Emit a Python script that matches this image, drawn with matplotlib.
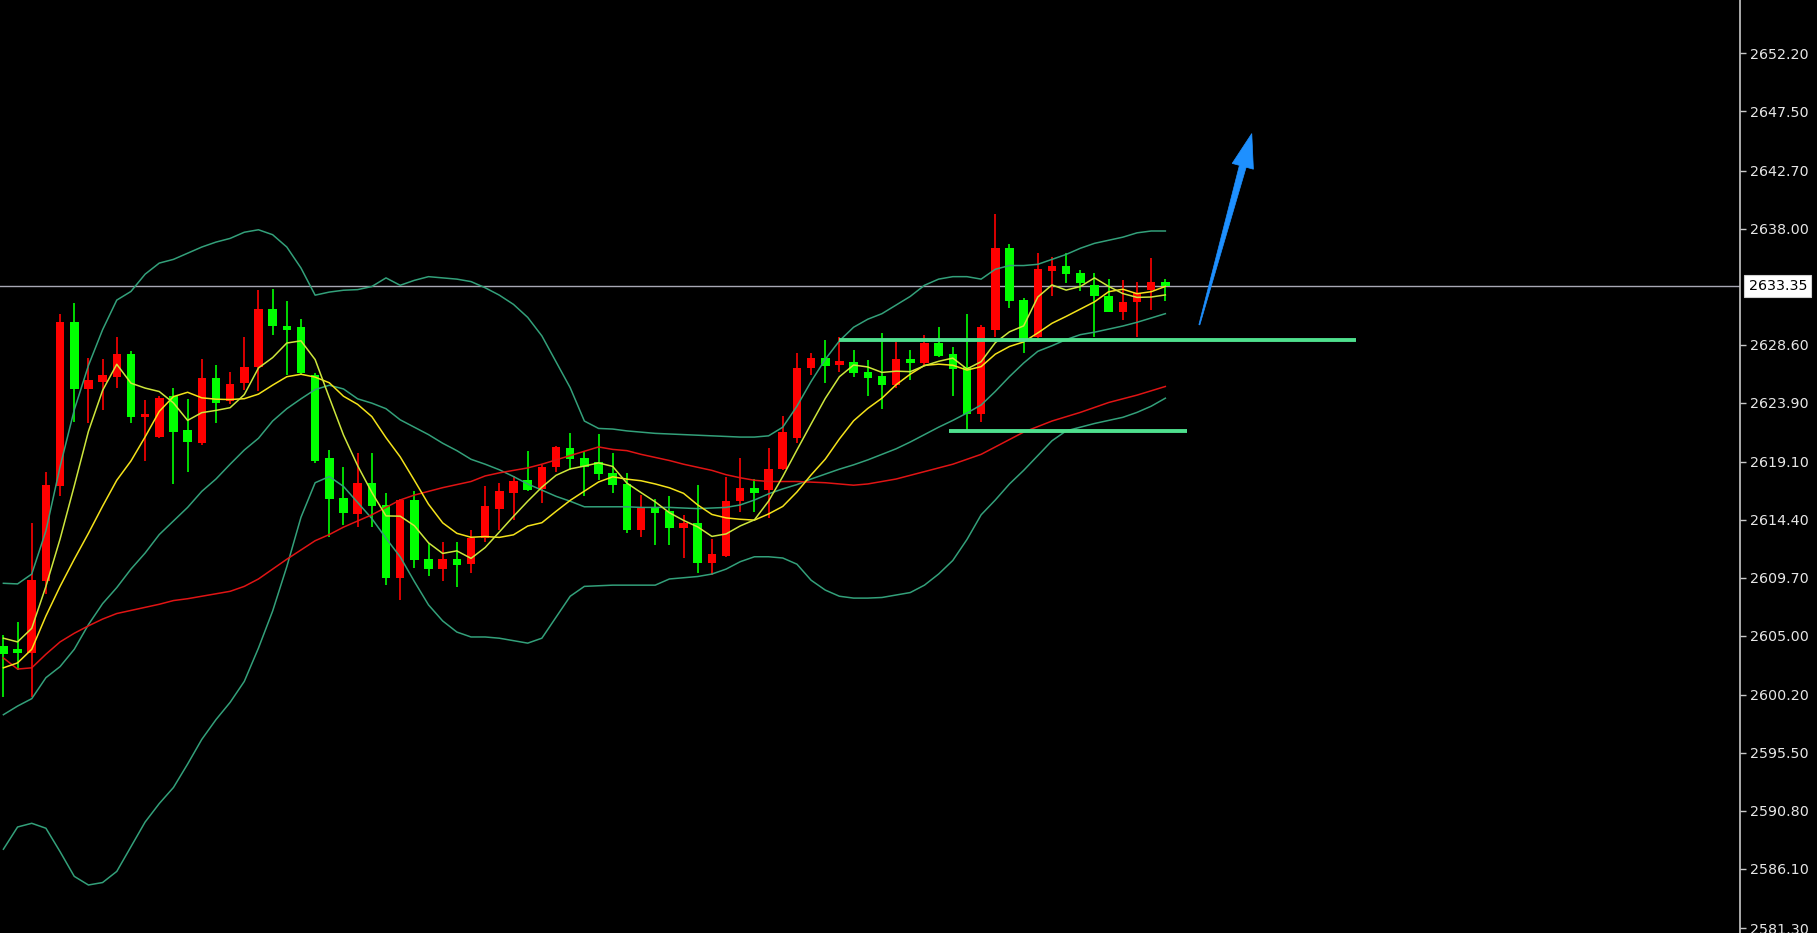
import numpy as np
import matplotlib
matplotlib.use("Agg")
import matplotlib.pyplot as plt
import matplotlib.transforms as mtransforms
from matplotlib.patches import Polygon

# ---------------- data ----------------
opens = [2604.2, 2603.9, 2603.6, 2609.4, 2617.1, 2630.4, 2625.0, 2625.6, 2626.0, 2627.8,
         2622.7, 2621.1, 2624.4, 2621.7, 2620.6, 2625.9, 2624.0, 2625.5, 2626.8, 2631.5,
         2630.1, 2630.0, 2626.1, 2619.4, 2616.2, 2614.9, 2617.35, 2615.6, 2609.65, 2616.0,
         2611.2, 2610.4, 2611.2, 2610.8, 2612.95, 2615.3, 2616.55, 2617.6, 2616.9, 2618.65,
         2620.2, 2619.4, 2619.05, 2618.2, 2617.3, 2613.55, 2615.45, 2615.1, 2613.7, 2614.15,
         2610.9, 2611.45, 2615.95, 2616.95, 2616.8, 2618.5, 2621.0, 2626.7, 2627.5, 2626.95,
         2627.2, 2626.4, 2626.05, 2625.3, 2627.4, 2627.1, 2628.7, 2627.8, 2626.8, 2623.0,
         2629.8, 2636.4, 2632.2, 2629.2, 2634.55, 2634.95, 2634.4, 2633.4, 2632.5, 2631.25,
         2632.05, 2633.0, 2633.7]
highs = [2605.1, 2606.1, 2614.1, 2618.3, 2631.1, 2632.0, 2627.5, 2627.4, 2629.2, 2628.1,
         2624.1, 2624.4, 2625.1, 2624.2, 2627.4, 2626.95, 2626.4, 2629.2, 2633.05, 2633.1,
         2632.1, 2630.65, 2626.3, 2620.05, 2618.65, 2619.8, 2619.8, 2616.55, 2616.1, 2616.7,
         2612.5, 2612.6, 2612.6, 2613.6, 2617.1, 2617.4, 2617.95, 2620.0, 2618.85, 2620.4,
         2621.4, 2619.9, 2621.35, 2619.8, 2618.2, 2616.4, 2616.1, 2616.3, 2614.8, 2617.2,
         2612.8, 2617.9, 2619.4, 2617.7, 2620.2, 2622.8, 2627.9, 2627.9, 2628.95, 2629.25,
         2628.15, 2627.35, 2629.55, 2628.8, 2628.15, 2629.4, 2630.0, 2628.4, 2631.1, 2630.2,
         2639.2, 2636.75, 2632.35, 2636.0, 2635.7, 2636.05, 2634.6, 2634.4, 2633.9, 2633.8,
         2633.7, 2635.6, 2633.95]
lows = [2600.0, 2602.2, 2600.0, 2608.4, 2616.3, 2622.35, 2622.2, 2623.3, 2625.05, 2622.2,
        2619.2, 2621.0, 2617.3, 2618.25, 2620.45, 2622.2, 2623.8, 2624.9, 2624.8, 2629.4,
        2626.1, 2626.1, 2619.0, 2613.0, 2614.0, 2613.8, 2613.8, 2609.1, 2607.9, 2610.45,
        2609.85, 2609.45, 2608.95, 2610.1, 2612.6, 2613.6, 2614.4, 2616.75, 2615.75, 2618.3,
        2618.45, 2616.3, 2617.6, 2616.55, 2613.3, 2613.0, 2612.35, 2612.35, 2611.3, 2610.1,
        2609.9, 2611.35, 2615.05, 2615.05, 2614.55, 2618.45, 2620.6, 2626.1, 2625.45, 2626.4,
        2626.0, 2624.4, 2623.4, 2625.05, 2625.7, 2626.9, 2627.6, 2624.4, 2621.65, 2622.35,
        2629.2, 2631.55, 2627.9, 2629.1, 2632.5, 2633.6, 2632.9, 2629.2, 2631.2, 2630.6,
        2629.2, 2631.4, 2632.1]
closes = [2603.5, 2603.6, 2609.5, 2617.2, 2630.4, 2625.0, 2625.7, 2626.1, 2627.8, 2622.75,
          2623.0, 2624.3, 2621.5, 2620.7, 2625.9, 2623.9, 2625.4, 2626.8, 2631.5, 2630.1,
          2629.8, 2626.3, 2619.2, 2616.1, 2614.95, 2617.35, 2615.5, 2609.65, 2616.0, 2611.1,
          2610.4, 2611.2, 2610.7, 2612.95, 2615.5, 2616.7, 2617.55, 2616.8, 2618.65, 2620.3,
          2619.3, 2618.7, 2618.1, 2617.2, 2613.55, 2615.45, 2614.95, 2613.7, 2614.1, 2610.9,
          2611.6, 2615.95, 2616.95, 2616.55, 2618.5, 2621.55, 2626.7, 2627.5, 2626.9, 2627.3,
          2626.3, 2625.9, 2625.3, 2627.4, 2627.1, 2628.7, 2627.7, 2626.6, 2623.0, 2630.05,
          2636.4, 2632.1, 2629.0, 2634.7, 2634.95, 2634.3, 2633.55, 2632.5, 2631.25, 2632.05,
          2632.75, 2633.7, 2633.35]

ma_fast = [2604.8, 2604.5, 2605.6, 2609.0, 2612.84, 2617.14, 2621.56, 2624.88, 2627.00, 2625.47,
           2625.07, 2624.79, 2623.87, 2622.45, 2623.08, 2623.26, 2623.48, 2624.54, 2626.70, 2627.54,
           2628.72, 2628.90, 2627.38, 2624.30, 2621.27, 2618.78, 2616.62, 2614.71, 2614.69, 2613.92,
           2612.53, 2611.67, 2611.88, 2611.27, 2612.15, 2613.41, 2614.68, 2615.90, 2617.04, 2618.00,
           2618.52, 2618.75, 2619.01, 2618.72, 2617.37, 2616.60, 2615.85, 2614.97, 2614.35, 2613.82,
           2613.05, 2613.25, 2613.90, 2614.39, 2615.91, 2617.90, 2620.05, 2622.16, 2624.23, 2625.99,
           2626.94, 2626.78, 2626.34, 2626.44, 2626.40, 2626.88, 2627.24, 2627.50, 2626.62, 2627.21,
           2628.75, 2629.63, 2630.11, 2632.45, 2633.43, 2633.01, 2633.30, 2634.00, 2633.31, 2632.73,
           2632.42, 2632.45, 2632.62]
ma_slow = [2602.4, 2602.8, 2603.9, 2606.6, 2609.0, 2611.2, 2613.3, 2615.5, 2617.6, 2619.16,
           2621.11, 2623.18, 2624.38, 2624.73, 2624.28, 2624.17, 2624.14, 2624.21, 2624.58, 2625.31,
           2625.99, 2626.19, 2625.96, 2625.50, 2624.41, 2623.75, 2622.76, 2621.05, 2619.50, 2617.60,
           2615.66, 2614.15, 2613.30, 2612.98, 2613.04, 2612.97, 2613.18, 2613.89, 2614.16, 2615.08,
           2615.97, 2616.72, 2617.46, 2617.88, 2617.69, 2617.56, 2617.30, 2616.99, 2616.54, 2615.60,
           2614.83, 2614.55, 2614.44, 2614.37, 2614.87, 2615.48, 2616.65, 2618.03, 2619.31, 2620.95,
           2622.42, 2623.42, 2624.25, 2625.34, 2626.20, 2626.91, 2627.01, 2626.92, 2626.53, 2626.81,
           2627.82, 2628.44, 2628.81, 2629.54, 2630.32, 2630.88, 2631.47, 2632.06, 2632.88, 2633.08,
           2632.72, 2632.88, 2633.31]
ma_long = [2603.2, 2602.3, 2602.4, 2603.5, 2604.5, 2605.2, 2605.8, 2606.35, 2606.8, 2607.05,
           2607.3, 2607.55, 2607.85, 2608.0, 2608.2, 2608.4, 2608.6, 2609.0, 2609.6, 2610.4,
           2611.2, 2611.95, 2612.7, 2613.2, 2613.8, 2614.3, 2614.8, 2615.4, 2616.0, 2616.4,
           2616.7, 2617.0, 2617.25, 2617.5, 2617.95, 2618.2, 2618.4, 2618.6, 2618.9, 2619.25,
           2619.6, 2619.95, 2620.3, 2620.1, 2620.0, 2619.7, 2619.45, 2619.2, 2618.9, 2618.65,
           2618.4, 2618.05, 2617.8, 2617.6, 2617.5, 2617.5, 2617.5, 2617.45, 2617.4, 2617.3,
           2617.2, 2617.3, 2617.5, 2617.7, 2618.0, 2618.3, 2618.6, 2618.9, 2619.3, 2619.7,
           2620.3, 2620.9, 2621.5, 2621.95, 2622.4, 2622.75, 2623.1, 2623.5, 2623.9, 2624.2,
           2624.5, 2624.85, 2625.2]
bb_upper = [2609.25, 2609.2, 2610.0, 2613.5, 2618.7, 2623.3, 2626.9, 2629.8, 2632.2, 2632.9,
            2634.3, 2635.2, 2635.5, 2636.0, 2636.5, 2636.9, 2637.2, 2637.7, 2637.9, 2637.5,
            2636.5, 2634.8, 2632.6, 2632.85, 2633.0, 2633.05, 2633.3, 2634.0, 2633.4, 2633.8,
            2634.1, 2634.0, 2633.9, 2633.7, 2633.2, 2632.6, 2631.85, 2630.8, 2629.3, 2627.2,
            2625.1, 2622.4, 2621.8, 2621.75, 2621.6, 2621.5, 2621.4, 2621.35, 2621.3, 2621.25,
            2621.2, 2621.15, 2621.1, 2621.1, 2621.2, 2621.9, 2623.6, 2625.6, 2627.4, 2628.9,
            2630.0, 2630.65, 2631.1, 2631.8, 2632.5, 2633.4, 2633.9, 2634.1, 2634.1, 2633.9,
            2634.7, 2635.0, 2635.0, 2635.1, 2635.5, 2635.9, 2636.4, 2636.8, 2637.05, 2637.3,
            2637.65, 2637.8, 2637.8]
bb_middle = [2598.6, 2599.3, 2599.9, 2601.6, 2602.5, 2603.9, 2605.9, 2607.6, 2608.9, 2610.4,
             2611.7, 2613.2, 2614.3, 2615.4, 2616.7, 2617.7, 2618.9, 2620.05, 2621.0, 2622.4,
             2623.4, 2624.2, 2624.95, 2625.3, 2625.0, 2624.2, 2623.85, 2623.4, 2622.5, 2621.9,
             2621.3, 2620.6, 2620.0, 2619.3, 2618.9, 2618.45, 2617.9, 2617.3, 2616.8, 2616.3,
             2615.9, 2615.45, 2615.45, 2615.45, 2615.45, 2615.4, 2615.4, 2615.4, 2615.35, 2615.3,
             2615.35, 2615.4, 2615.6, 2616.0, 2616.5, 2616.9, 2617.25, 2617.7, 2618.1, 2618.5,
             2618.85, 2619.25, 2619.7, 2620.15, 2620.7, 2621.3, 2621.9, 2622.45, 2623.05, 2623.7,
             2624.8, 2626.0, 2627.1, 2628.05, 2628.5, 2629.0, 2629.4, 2629.6, 2629.85, 2630.1,
             2630.4, 2630.75, 2631.1]
bb_lower = [2587.7, 2589.5, 2589.8, 2589.4, 2587.5, 2585.5, 2584.8, 2585.0, 2585.9, 2587.9,
            2589.9, 2591.4, 2592.7, 2594.6, 2596.6, 2598.2, 2599.6, 2601.3, 2604.0, 2607.0,
            2610.6, 2614.6, 2617.4, 2617.9, 2617.1, 2615.8, 2614.5, 2612.9, 2611.4, 2609.4,
            2607.5, 2606.2, 2605.3, 2604.9, 2604.9, 2604.8, 2604.6, 2604.4, 2604.8, 2606.5,
            2608.2, 2609.0, 2609.05, 2609.1, 2609.1, 2609.1, 2609.1, 2609.6, 2609.7, 2609.8,
            2610.0, 2610.4, 2611.0, 2611.4, 2611.4, 2611.3, 2610.8, 2609.5, 2608.7, 2608.2,
            2608.05, 2608.05, 2608.1, 2608.3, 2608.5, 2609.1, 2610.0, 2611.1, 2612.8, 2614.8,
            2616.0, 2617.3, 2618.4, 2619.6, 2620.8, 2621.6, 2621.9, 2622.2, 2622.45, 2622.7,
            2623.1, 2623.6, 2624.25]

price_ticks = [2652.20, 2647.50, 2642.70, 2638.00, 2628.60, 2623.90, 2619.10, 2614.40,
               2609.70, 2605.00, 2600.20, 2595.50, 2590.80, 2586.10, 2581.30]
top_tick = 2656.90
last_price = 2633.35

# drawn objects (candle index, price)
support_hi = (58.98, 95.45, 2629.0)     # start idx, end idx, price
support_lo = (66.7, 83.5, 2621.6)
arrow_tail = (84.4, 2630.2)
arrow_tip = (88.1, 2645.7)

# ---------------- figure ----------------
W, H = 1817, 933
AX_W = 1740
fig = plt.figure(figsize=(W / 100, H / 100), dpi=100, facecolor="black")
ax = fig.add_axes([0, 0, AX_W / W, 1])
ax.set_facecolor("black")

n = len(closes)
idx = np.arange(n)
x_left = -3.4 / 14.17
x_right = (AX_W - 3.4) / 14.17
ax.set_xlim(x_left, x_right)
ax.set_ylim(2580.91, 2656.52)

UP = "#ff0000"
DOWN = "#00ff00"

# last price line (behind)
ax.axhline(last_price, color="#a8a8b4", lw=1.0, zorder=1)

o = np.array(opens); c = np.array(closes); hgh = np.array(highs); lw_ = np.array(lows)
cols = [UP if cc >= oo else DOWN for oo, cc in zip(o, c)]
ax.vlines(idx, lw_, hgh, colors=cols, linewidth=1.2, zorder=2)
body_h = np.maximum(np.abs(c - o), 0.18)
ax.bar(idx, body_h, bottom=np.minimum(o, c), width=0.6, color=cols, linewidth=0, zorder=3)

TEAL = "#33a07a"
ax.plot(idx, bb_upper, color=TEAL, lw=1.1, zorder=4)
ax.plot(idx, bb_middle, color=TEAL, lw=1.1, zorder=4)
ax.plot(idx, bb_lower, color=TEAL, lw=1.1, zorder=4)
ax.plot(idx, ma_long, color="#e01414", lw=1.1, zorder=4)
ax.plot(idx, ma_slow, color="#f4e21a", lw=1.1, zorder=5)
ax.plot(idx, ma_fast, color="#cde63c", lw=1.1, zorder=5)

SUP = "#4fe08e"
ax.hlines(support_hi[2], support_hi[0], support_hi[1], color=SUP, lw=2.8, zorder=6)
ax.hlines(support_lo[2], support_lo[0], support_lo[1], color=SUP, lw=2.8, zorder=6)

# blue arrow: built in pixel space from tail/tip data points
fig.canvas.draw()
p0 = ax.transData.transform(arrow_tail)
p1 = ax.transData.transform(arrow_tip)
d = p1 - p0
L = np.hypot(*d)
u = d / L
nrm = np.array([-u[1], u[0]])
head_len = 34.0
head_half = 11.0
shaft_half_end = 3.5
base = p1 - u * head_len
pts = [p0 - nrm * 0.5,
       base - nrm * shaft_half_end,
       base - nrm * head_half,
       p1,
       base + nrm * head_half,
       base + nrm * shaft_half_end,
       p0 + nrm * 0.5]
pts_data = ax.transData.inverted().transform(np.array(pts))
ax.add_patch(Polygon(pts_data, closed=True, facecolor="#1e90ff", edgecolor="#1e90ff",
                     lw=0.5, zorder=7))

# ---------------- right price scale ----------------
for s in ["left", "top", "bottom"]:
    ax.spines[s].set_visible(False)
ax.spines["right"].set_color("#c8c8c8")
ax.spines["right"].set_linewidth(1.2)
ax.set_xticks([])
ax.yaxis.tick_right()
ax.set_yticks(price_ticks)
ax.set_yticklabels([f"{v:.2f}" for v in price_ticks])
ax.tick_params(axis="y", colors="#c8c8c8", labelcolor="#e6e6e6", length=4, width=1,
               labelsize=10.3, pad=3)

blend = mtransforms.blended_transform_factory(ax.transAxes, ax.transData)
ax.text(1 + 10 / AX_W, top_tick, f"{top_tick:.2f}", transform=blend, ha="left", va="center",
        color="#e6e6e6", fontsize=10.3, clip_on=False)
ax.text(1 + 8.5 / AX_W, last_price, f"{last_price:.2f}", transform=blend, ha="left",
        va="center", color="black", fontsize=10.3, clip_on=False, zorder=10,
        bbox=dict(boxstyle="square,pad=0.28", facecolor="white", edgecolor="#d0d0d0", lw=0.8))

fig.savefig("out.png", dpi=100, facecolor="black")
